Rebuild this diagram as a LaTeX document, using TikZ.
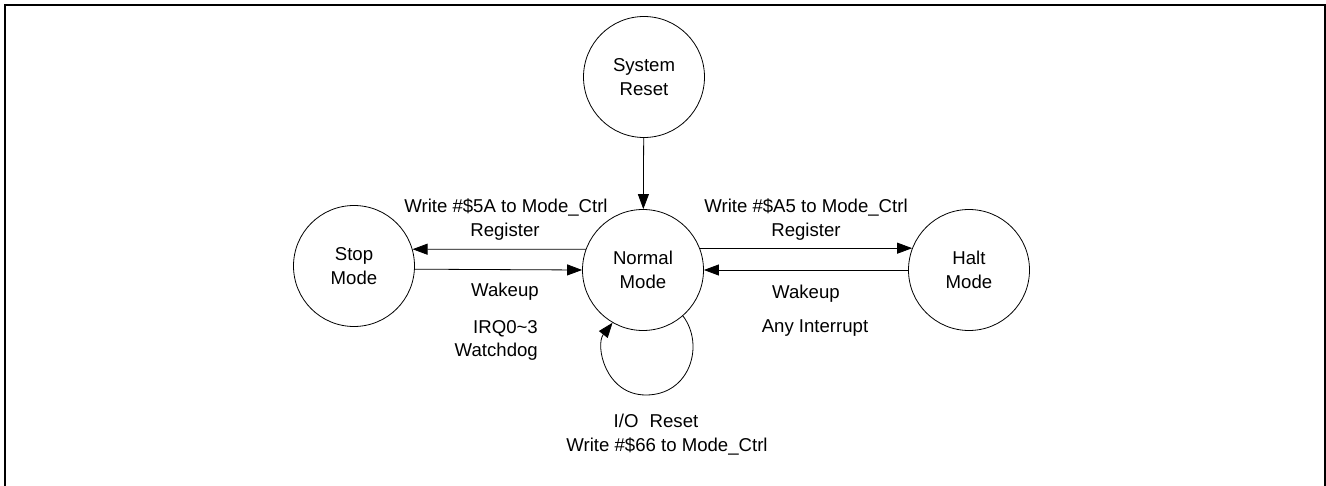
\documentclass[tikz,border=0pt]{standalone}
\usepackage{fontspec}
\setmainfont{Liberation Sans}
\usetikzlibrary{arrows.meta}
\begin{document}
\begin{tikzpicture}[x=1pt,y=-1pt,
  state/.style={draw,circle,line width=0.8pt,minimum size=121pt,inner sep=0pt,align=center,font=\fontsize{18.6}{24}\selectfont},
  lbl/.style={anchor=base,inner sep=0pt,font=\fontsize{18.6}{24}\selectfont},
  arr/.style={line width=0.8pt,-{Triangle[length=15pt,width=11pt]}}]
\useasboundingbox (0,0) rectangle (1326,486);
\draw[line width=2pt] (5,5) rectangle (1324.7,492);
\node[state] (R) at (644,77) {System\\Reset};
\node[state] (N) at (643,270) {Normal\\Mode};
\node[state] (S) at (354,266) {Stop\\Mode};
\node[state] (H) at (969,270) {Halt\\Mode};
\draw[arr] (R) -- (N);
\draw[arr] (N.160) -- (S.16);
\draw[arr] (S.-3) -- (N.west);
\draw[arr] (N.21) -- (H.159);
\draw[arr] (H.west) -- (N.east);
\coordinate (L1) at (646,395);
\draw[arr] (N.-49) .. controls (705,345) and (690,395) .. (L1) .. controls (605,395) and (595,345) .. (N.-120);
\node[lbl] (t1) at (506,213) {Write \#\$5A to Mode\_Ctrl};
\node[lbl] (t2) at (505,237) {Register};
\node[lbl] (t3) at (505,297) {Wakeup};
\node[lbl,anchor=base east] (t4) at (538,334) {IRQ0\char`\~3};
\node[lbl,anchor=base east] (t5) at (538,357) {Watchdog};
\node[lbl] (t6) at (806,213) {Write \#\$A5 to Mode\_Ctrl};
\node[lbl] (t7) at (806,237) {Register};
\node[lbl] (t8) at (806,299) {Wakeup};
\node[lbl] (t9) at (815,333) {Any Interrupt};
\node[lbl] (t10) at (656,428) {I/O\hspace{0.6em}Reset};
\node[lbl] (t11) at (667,451) {Write \#\$66 to Mode\_Ctrl};
\end{tikzpicture}
\end{document}
